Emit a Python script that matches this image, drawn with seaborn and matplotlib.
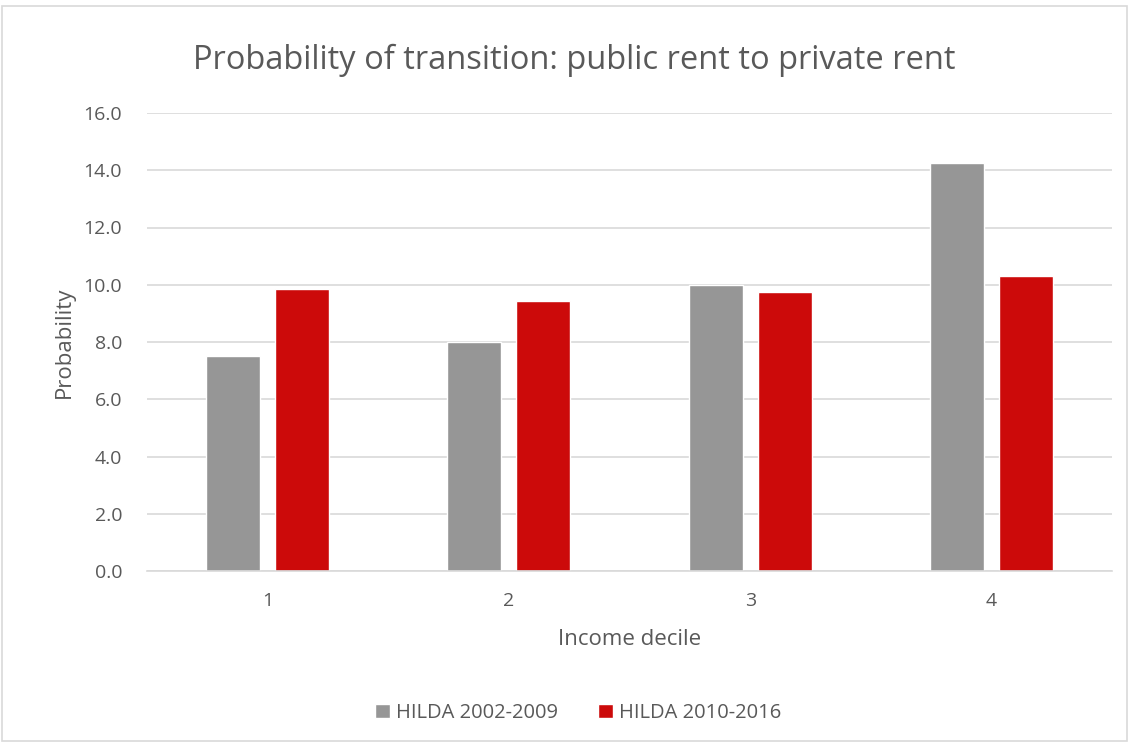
import numpy as np
import pandas as pd
import matplotlib
matplotlib.use("Agg")
import matplotlib.pyplot as plt
import seaborn as sns
from matplotlib.patches import Rectangle

# ---------------------------
# Data
# ---------------------------
deciles = ["1", "2", "3", "4"]
series = ["HILDA 2002-2009", "HILDA 2010-2016"]
hilda_2002_2009 = [7.52, 8.0, 9.98, 14.26]
hilda_2010_2016 = [9.86, 9.44, 9.76, 10.31]
y_ticks = [0, 2, 4, 6, 8, 10, 12, 14, 16]

colors = ["#969696", "#cc0a0a"]
text_col = "#595959"

df = pd.DataFrame({
    "decile": deciles * 2,
    "series": [series[0]] * 4 + [series[1]] * 4,
    "value": hilda_2002_2009 + hilda_2010_2016,
})

# ---------------------------
# Plot
# ---------------------------
sns.set_style("white")
plt.rcParams["font.family"] = ["Open Sans", "DejaVu Sans"]

fig = plt.figure(figsize=(11.29, 7.42), dpi=100)
ax = fig.add_axes([147 / 1129, 1 - 571 / 742, (1112 - 147) / 1129, (571 - 113) / 742])

sns.barplot(data=df, x="decile", y="value", hue="series", palette=colors,
            width=0.573, gap=0.22, ax=ax, saturation=1, legend=True)

ax.set_ylim(0, 16)
ax.set_yticks(y_ticks)
ax.set_yticklabels([f"{t:.1f}" for t in y_ticks])
ax.yaxis.grid(True, color="#d9d9d9", linewidth=1.2)
ax.set_axisbelow(True)
for s in ["top", "right", "left"]:
    ax.spines[s].set_visible(False)
ax.spines["bottom"].set_color("#d9d9d9")
ax.spines["bottom"].set_linewidth(1.2)
ax.tick_params(axis="both", length=0, labelsize=14, colors=text_col)
ax.tick_params(axis="x", pad=15)
ax.tick_params(axis="y", pad=18)

ax.set_xlabel("Income decile", fontsize=16, color=text_col, labelpad=14)
ax.set_ylabel("Probability", fontsize=16, color=text_col, labelpad=6)

fig.text(574 / 1129, 1 - 60 / 742, "Probability of transition: public rent to private rent",
         ha="center", va="center", fontsize=23.5, color=text_col)

handles, labels = ax.get_legend_handles_labels()
ax.legend_.remove()
fig.legend(handles, labels, loc="center", bbox_to_anchor=(578 / 1129, 1 - 713 / 742),
           ncol=2, frameon=False, fontsize=14.5, handlelength=0.75, handleheight=0.75,
           handletextpad=0.3, columnspacing=2.0, labelcolor=text_col)

fig.patches.append(Rectangle((0.002, 0.002), 0.996, 0.99, transform=fig.transFigure,
                             fill=False, edgecolor="#d9d9d9", linewidth=1.2))

fig.savefig("out.png", dpi=100)
